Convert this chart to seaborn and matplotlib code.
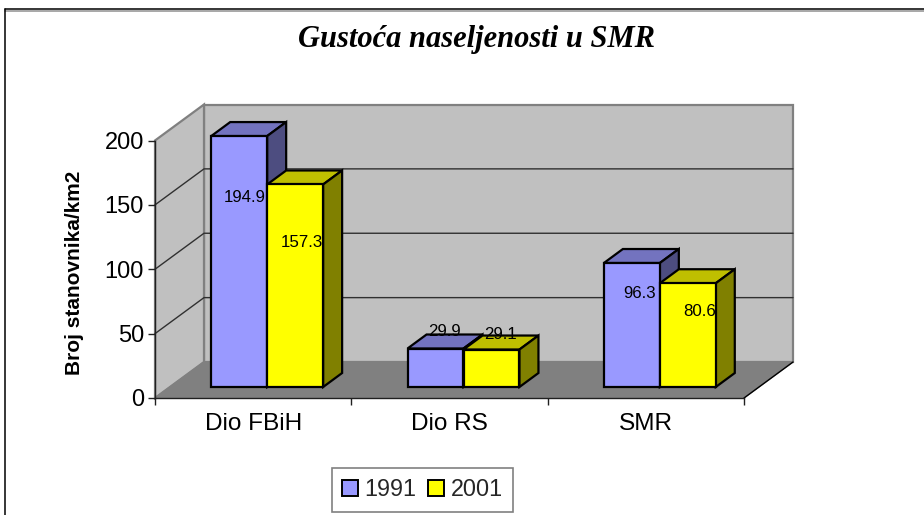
"""
Gustoca naseljenosti u SMR - old Excel style 3D columns, redone with seaborn.
"""

import matplotlib
matplotlib.use("Agg")
import matplotlib.pyplot as plt
import pandas as pd
import seaborn as sns
from matplotlib.lines import Line2D
from matplotlib.patches import Polygon

# ---------------------------------------------------------
# Data
# ---------------------------------------------------------
categories = ["Dio FBiH", "Dio RS", "SMR"]
years = ["1991", "2001"]
values_1991 = [194.9, 29.9, 96.3]
values_2001 = [157.3, 29.1, 80.6]
y_ticks = [0, 50, 100, 150, 200]

title = "Gustoća naseljenosti u SMR"
y_label = "Broj stanovnika/km2"

# ---------------------------------------------------------
# Styles
# ---------------------------------------------------------
W, H = 924, 515
PX_X = 3 / 589      # data units per pixel
PX_Y = 200 / 257.5

front_colors = ["#9999ff", "#ffff00"]
top_colors = ["#7373bf", "#bfbf00"]
side_colors = ["#4d4d80", "#808000"]

# pixel offsets of the data labels from the top centre of each bar
label_offsets = [
    [(5, -61), (9, 17), (8, -30)],
    [(7, -58), (9, 15), (12, -28)],
]

sns.set_theme(style="white")
plt.rcParams["font.family"] = ["Liberation Sans", "DejaVu Sans"]

df = pd.DataFrame({
    "category": categories * 2,
    "year": [years[0]] * 3 + [years[1]] * 3,
    "value": values_1991 + values_2001,
})

fig = plt.figure(figsize=(W / 100, H / 100), dpi=100, facecolor="white")
ax = fig.add_axes([155 / W, (H - 398) / H, 589 / W, 257.5 / H])
ax.patch.set_visible(False)

sns.barplot(
    data=df, x="category", y="value", hue="year", hue_order=years,
    palette=front_colors, width=0.57, gap=0, saturation=1,
    edgecolor="black", linewidth=1.6, ax=ax, zorder=3,
)
ax.set_xlim(-0.5, 2.5)
ax.set_ylim(0, 200)

# ---------------------------------------------------------
# Walls and floor
# ---------------------------------------------------------
wall_dx = 49 * PX_X
wall_dy = 36 * PX_Y
x0, x1 = -0.5, 2.5


def add_poly(points, **kwargs):
    ax.add_patch(Polygon(points, closed=True, clip_on=False, **kwargs))


add_poly([(x0 + wall_dx, wall_dy), (x1 + wall_dx, wall_dy),
          (x1 + wall_dx, 200 + wall_dy), (x0 + wall_dx, 200 + wall_dy)],
         facecolor="#c0c0c0", edgecolor="#808080", linewidth=1.6, zorder=0)
add_poly([(x0, 0), (x0 + wall_dx, wall_dy),
          (x0 + wall_dx, 200 + wall_dy), (x0, 200)],
         facecolor="#c0c0c0", edgecolor="#808080", linewidth=1.6, zorder=0.1)
add_poly([(x0, 0), (x1, 0), (x1 + wall_dx, wall_dy), (x0 + wall_dx, wall_dy)],
         facecolor="#808080", edgecolor="#808080", linewidth=1, zorder=0.2)

for tick in y_ticks[1:-1]:
    ax.plot([x0, x0 + wall_dx, x1 + wall_dx], [tick, tick + wall_dy, tick + wall_dy],
            color="#303030", linewidth=1, clip_on=False, zorder=0.5)
ax.plot([x1, x1 + wall_dx], [0, wall_dy], color="black", linewidth=1,
        clip_on=False, zorder=0.5)

# ---------------------------------------------------------
# 3D look: move bars into the floor, add top and side faces
# ---------------------------------------------------------
bar_dx = 14 * PX_X
bar_dy = 11 * PX_Y
depth_dx = 19 * PX_X
depth_dy = 14 * PX_Y

for i, container in enumerate(ax.containers):
    for j, bar in enumerate(container):
        bar.set_x(bar.get_x() + bar_dx)
        bar.set_y(bar_dy)
        bar.set_clip_on(False)
        bar.set_zorder(3.5 + i)
        left = bar.get_x()
        right = left + bar.get_width()
        top = bar_dy + bar.get_height()
        add_poly([(left, top), (right, top), (right + depth_dx, top + depth_dy),
                  (left + depth_dx, top + depth_dy)],
                 facecolor=top_colors[i], edgecolor="black", linewidth=1.6, zorder=3 + i)
        add_poly([(right, bar_dy), (right + depth_dx, bar_dy + depth_dy),
                  (right + depth_dx, top + depth_dy), (right, top)],
                 facecolor=side_colors[i], edgecolor="black", linewidth=1.6, zorder=3 + i)
        ax.annotate(f"{bar.get_height():.1f}", xy=((left + right) / 2, top),
                    xytext=label_offsets[i][j], textcoords="offset pixels",
                    ha="center", va="center", fontsize=12.2, color="black",
                    zorder=10, annotation_clip=False)

# ---------------------------------------------------------
# Axes, labels, legend
# ---------------------------------------------------------
sns.despine(ax=ax, top=True, right=True)
for side in ["left", "bottom"]:
    ax.spines[side].set_color("#202020")
    ax.spines[side].set_linewidth(1)
    ax.spines[side].set_zorder(1)

ax.set_yticks(y_ticks)
ax.set_xticks([-0.5, 0.5, 1.5, 2.5], minor=True)
ax.tick_params(axis="y", left=True, length=5, width=1, pad=3, labelsize=17,
               color="#202020", labelcolor="black")
ax.tick_params(axis="x", which="major", bottom=False, pad=5, labelsize=17.6,
               labelcolor="black")
ax.tick_params(axis="x", which="minor", bottom=True, length=5, width=1, color="#202020")

ax.set_xlabel("")
ax.set_ylabel(y_label, fontsize=15, fontweight="bold", color="black")
ax.yaxis.set_label_coords((84 - 155) / 589, (398 - 273) / 257.5)

fig.text(476 / W, 1 - 39 / H, title, ha="center", va="center", fontsize=22,
         family="Liberation Serif", style="italic", fontweight="bold", color="black")

sns.move_legend(
    ax, "center", bbox_to_anchor=(422.5 / W, 1 - 490 / H), bbox_transform=fig.transFigure,
    ncol=2, title=None, frameon=True, fancybox=False, framealpha=1,
    edgecolor="#808080", fontsize=16.8, handlelength=0.68, handleheight=0.68,
    handletextpad=0.27, columnspacing=0.5, borderpad=0.45,
)
ax.get_legend().get_frame().set_linewidth(1.2)
for handle in ax.get_legend().get_patches():
    handle.set_edgecolor("black")
    handle.set_linewidth(1.4)

# chart frame, only top and left fall inside the picture
for xs, ys, color in [
    ([5, W], [9, 9], "black"),
    ([5, W], [10.5, 10.5], "#909090"),
    ([5, 5], [9, H], "black"),
]:
    fig.add_artist(Line2D([x / W for x in xs], [1 - y / H for y in ys],
                          color=color, linewidth=1.1))

fig.savefig("out.png", dpi=100)
